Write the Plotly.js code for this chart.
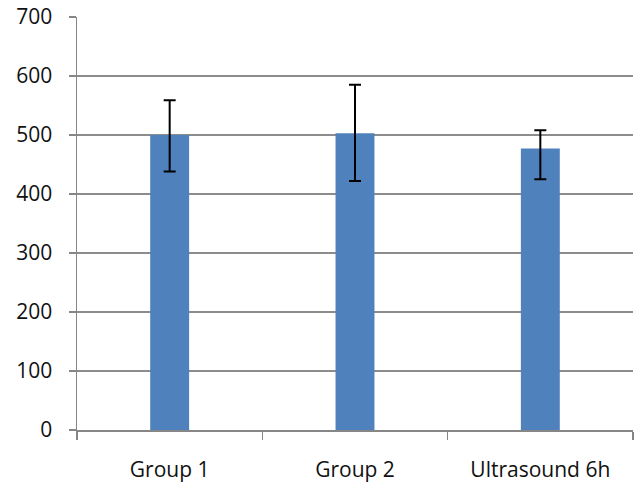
<!DOCTYPE html>
<html>
<head>
<meta charset="utf-8">
<script src="https://cdn.plot.ly/plotly-3.0.1.min.js"></script>
<style>html,body{margin:0;padding:0;background:#fff;}#chart{width:641px;height:484px;}</style>
</head>
<body>
<div id="chart"></div>
<script>
var categories = ["Group 1", "Group 2", "Ultrasound 6h"];
var values = [500, 503, 477];
var errPlus = [59, 82, 31];
var errMinus = [62, 81, 52];
var yTicks = [0, 100, 200, 300, 400, 500, 600, 700];

var trace = {
  type: "bar",
  x: categories,
  y: values,
  marker: {color: "#4F81BD"},
  error_y: {type: "data", symmetric: false, array: errPlus, arrayminus: errMinus,
            color: "#000000", thickness: 2, width: 6},
  hoverinfo: "none"
};

var layout = {
  width: 641, height: 484,
  margin: {l: 77, r: 8, t: 17, b: 54},
  paper_bgcolor: "#ffffff", plot_bgcolor: "#ffffff",
  font: {family: "Open Sans, sans-serif", size: 21, color: "#111111"},
  bargap: 0.79,
  showlegend: false,
  xaxis: {
    type: "category",
    showline: true, linecolor: "#868686", linewidth: 1.5,
    ticks: "outside", tickson: "boundaries", ticklen: 8, tickcolor: "#868686", tickwidth: 1.5,
    ticklabelstandoff: 20,
    tickfont: {size: 21},
    showgrid: false, zeroline: false
  },
  yaxis: {
    range: [0, 700], tickvals: yTicks, ticktext: yTicks.map(String),
    showline: true, linecolor: "#868686", linewidth: 1.5,
    ticks: "outside", ticklen: 7, tickcolor: "#868686", tickwidth: 1.5,
    ticklabelstandoff: 12,
    tickfont: {size: 21},
    showgrid: true, gridcolor: "#8c8c8c", gridwidth: 1.5,
    zeroline: false
  }
};

Plotly.newPlot("chart", [trace], layout, {staticPlot: true, displayModeBar: false});
</script>
</body>
</html>
